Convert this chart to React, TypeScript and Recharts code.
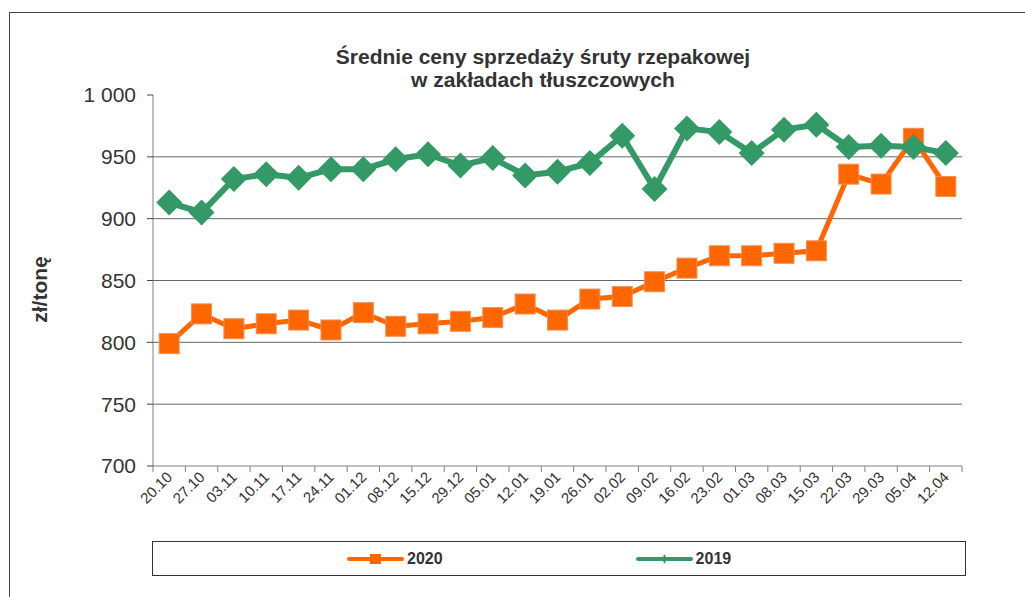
import React from "react";
import { LineChart, Line, XAxis, YAxis, CartesianGrid, Legend } from "recharts";

const weeks = [
  "20.10", "27.10", "03.11", "10.11", "17.11", "24.11", "01.12", "08.12", "15.12",
  "29.12", "05.01", "12.01", "19.01", "26.01", "02.02", "09.02", "16.02", "23.02",
  "01.03", "08.03", "15.03", "22.03", "29.03", "05.04", "12.04",
];
const prices2020 = [
  799, 823, 811, 815, 818, 810, 824, 813, 815, 817, 820, 831, 818, 835, 837, 849,
  860, 870, 870, 872, 874, 936, 928, 965, 926,
];
const prices2019 = [
  913, 905, 932, 936, 933, 940, 940, 948, 952, 943, 949, 935, 938, 945, 967, 924,
  973, 970, 953, 972, 976, 958, 959, 958, 953,
];
const seriesOrder = ["2020", "2019"];
const yTicks = [700, 750, 800, 850, 900, 950, 1000];
const gridValues = [750, 800, 850, 900, 950];

const ORANGE = "#FF6600";
const GREEN = "#339966";
const FONT = "'Liberation Sans', Arial, sans-serif";

const W = 1025;
const H = 597;
const MARGIN = { top: 95, right: 63, left: 33, bottom: 21 };
const Y_AXIS_W = 120;
const PLOT_W = W - MARGIN.left - MARGIN.right - Y_AXIS_W;
const HALF_BAND = PLOT_W / weeks.length / 2;

const data = weeks.map((w, i) => ({ week: w, y2020: prices2020[i], y2019: prices2019[i] }));

function yFormatter(v: number) {
  return v >= 1000 ? v.toString().replace(/(\d)(\d{3})$/, "$1 $2") : String(v);
}

// square marker (2020)
const SquareDot = (props: any) => {
  const { cx, cy, index } = props;
  if (cx == null || cy == null) return <g key={`s-${index}`} />;
  const s = 10;
  return (
    <rect
      key={`s-${index}`}
      x={cx - s}
      y={cy - s}
      width={s * 2}
      height={s * 2}
      fill={ORANGE}
      stroke="#f0914f"
      strokeWidth={1}
    />
  );
};

// diamond marker (2019)
const DiamondDot = (props: any) => {
  const { cx, cy, index } = props;
  if (cx == null || cy == null) return <g key={`d-${index}`} />;
  const r = 13;
  return (
    <polygon
      key={`d-${index}`}
      points={`${cx},${cy - r} ${cx + r},${cy} ${cx},${cy + r} ${cx - r},${cy}`}
      fill={GREEN}
    />
  );
};

// category labels + tick marks between categories (excel style)
const XTick = (props: any) => {
  const { x, y, payload, index } = props;
  const last = index === weeks.length - 1;
  const tx = x + 4;
  const ty = y + 6;
  return (
    <g>
      <line x1={x - HALF_BAND} x2={x - HALF_BAND} y1={y - 6} y2={y} stroke="#808080" />
      {last && (
        <line x1={x + HALF_BAND} x2={x + HALF_BAND} y1={y - 6} y2={y} stroke="#808080" />
      )}
      <text
        x={tx}
        y={ty}
        textAnchor="end"
        transform={`rotate(-45, ${tx}, ${ty})`}
        fontSize={15}
        fill="#333"
        fontFamily={FONT}
      >
        {payload.value}
      </text>
    </g>
  );
};

const YLabel = (props: any) => {
  const vb = props.viewBox || {};
  const x = vb.x + 6;
  const y = vb.y + vb.height / 2 + 9;
  return (
    <text
      x={x}
      y={y}
      transform={`rotate(-90, ${x}, ${y})`}
      textAnchor="middle"
      dominantBaseline="central"
      fontSize={21}
      fontWeight="bold"
      fill="#333"
      fontFamily={FONT}
    >
      zł/tonę
    </text>
  );
};

const LegendIcon = ({ color, kind }: { color: string; kind: string }) => (
  <svg width={58} height={14} style={{ display: "block" }}>
    <line x1={2} x2={55} y1={7} y2={7} stroke={color} strokeWidth={4} strokeLinecap="round" />
    {kind === "square" ? (
      <rect x={23} y={2} width={11} height={10} fill={color} />
    ) : (
      <polygon points="28.5,2 31,7 28.5,12 26,7" fill={color} />
    )}
  </svg>
);

const LegendBox = (props: any) => {
  const items = [...(props.payload || [])].sort(
    (a: any, b: any) => seriesOrder.indexOf(a.value) - seriesOrder.indexOf(b.value)
  );
  return (
    <div
      style={{
        height: 35,
        boxSizing: "border-box",
        border: "1px solid #333",
        display: "flex",
        alignItems: "center",
        paddingLeft: 194,
        fontFamily: FONT,
      }}
    >
      {items.map((it: any, i: number) => (
        <div
          key={it.value}
          style={{ display: "flex", alignItems: "center", marginLeft: i === 0 ? 0 : 193 }}
        >
          <LegendIcon color={it.color} kind={it.value === "2020" ? "square" : "diamond"} />
          <span style={{ fontSize: 16, fontWeight: "bold", color: "#333", marginLeft: 2 }}>
            {it.value}
          </span>
        </div>
      ))}
    </div>
  );
};

export default function App() {
  return (
    <div
      style={{
        position: "absolute",
        left: 0,
        top: 0,
        width: W,
        height: H,
        overflow: "hidden",
        background: "#fff",
      }}
    >
      <div
        style={{
          position: "absolute",
          left: 9,
          top: 12,
          width: 1040,
          height: 620,
          border: "1px solid #444",
        }}
      />
      <div
        style={{
          position: "absolute",
          left: 243,
          top: 45,
          width: 600,
          textAlign: "center",
          fontFamily: FONT,
          fontWeight: "bold",
          fontSize: 21,
          lineHeight: "23px",
          color: "#333",
        }}
      >
        Średnie ceny sprzedaży śruty rzepakowej
        <br />
        w zakładach tłuszczowych
      </div>
      <div style={{ position: "absolute", left: 0, top: 0 }}>
        <LineChart width={W} height={H} data={data} margin={MARGIN}>
          <CartesianGrid vertical={false} horizontalValues={gridValues} stroke="#666" />
          <XAxis
            dataKey="week"
            interval={0}
            height={75}
            padding={{ left: HALF_BAND, right: HALF_BAND }}
            tickLine={false}
            tickSize={6}
            tickMargin={0}
            axisLine={{ stroke: "#808080" }}
            tick={<XTick />}
          />
          <YAxis
            domain={[700, 1000]}
            ticks={yTicks}
            width={Y_AXIS_W}
            tickSize={6}
            tickMargin={11}
            tickFormatter={yFormatter}
            tick={{ fontSize: 21, fill: "#333", fontFamily: FONT }}
            tickLine={{ stroke: "#444" }}
            axisLine={{ stroke: "#808080" }}
            label={<YLabel />}
          />
          <Legend
            verticalAlign="bottom"
            content={<LegendBox />}
            wrapperStyle={{ left: 152, width: 814, bottom: 21 }}
          />
          <Line
            dataKey="y2020"
            name="2020"
            stroke={ORANGE}
            strokeWidth={5}
            dot={SquareDot}
            activeDot={false}
            isAnimationActive={false}
          />
          <Line
            dataKey="y2019"
            name="2019"
            stroke={GREEN}
            strokeWidth={6}
            dot={DiamondDot}
            activeDot={false}
            isAnimationActive={false}
          />
        </LineChart>
      </div>
    </div>
  );
}
